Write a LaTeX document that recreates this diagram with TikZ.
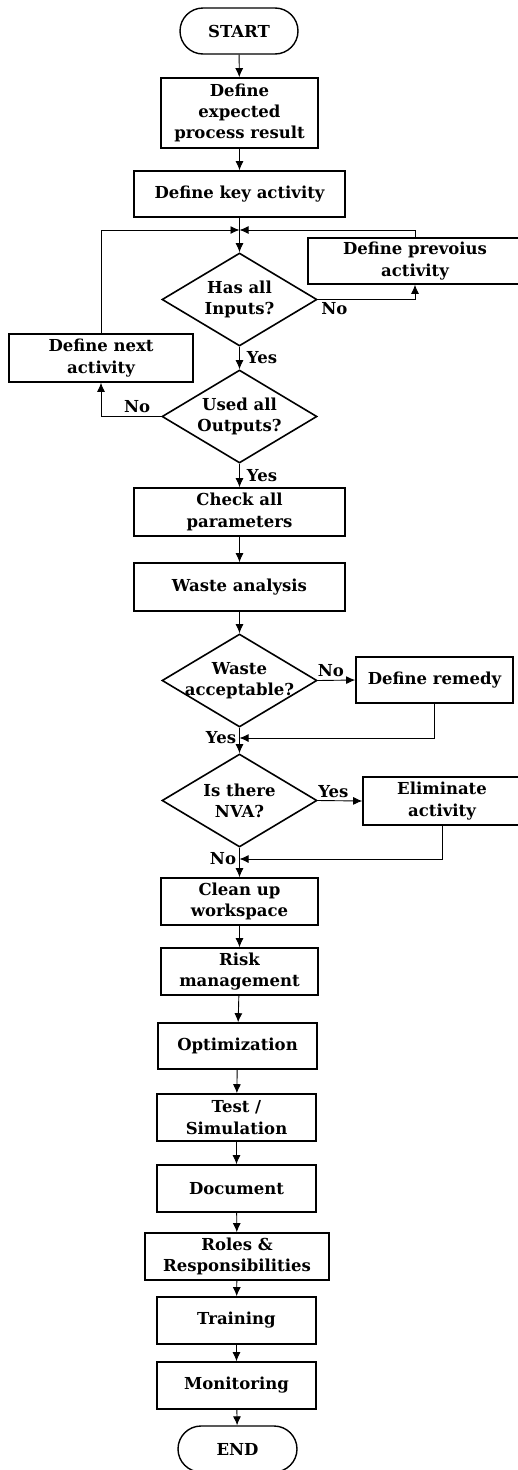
\documentclass[tikz,border=0pt]{standalone}
\usepackage{fontspec}
\setmainfont{DejaVu Serif}
\usetikzlibrary{shapes.geometric,arrows.meta}
\begin{document}
\begin{tikzpicture}[x=1pt,y=-1pt,>={Latex[length=9pt,width=8pt]},
  font=\bfseries\fontsize{16.5}{21.3}\selectfont,
  box/.style={draw,line width=1.6pt,align=center,inner sep=0pt,minimum width=#1,minimum height=47pt},
  box/.default=157pt,
  terminal/.style={draw,line width=1.4pt,rounded corners=23pt,minimum width=118pt,minimum height=46pt},
  decision/.style={draw,diamond,line width=1.6pt,inner sep=0pt,minimum width=155pt,minimum height=93pt},
  dtext/.style={align=center,inner sep=0pt},
  lbl/.style={inner sep=3pt},
  flow/.style={->,line width=0.9pt}]
\useasboundingbox (0,0) rectangle (517,1470);
% main column
\node[terminal] (start) at (239,31) {START};
\node[box,minimum height=70pt] (expected) at (239.5,113) {Define\\expected\\process result};
\node[box=211pt,minimum height=46pt] (key) at (239.5,194) {Define key activity};
\node[decision] (inputs) at (239.5,299.5) {};
\node[dtext] (inputs-t) at (inputs) {Has all\\Inputs?};
\node[decision] (outputs) at (239.5,416.5) {};
\node[dtext] (outputs-t) at (outputs) {Used all\\Outputs?};
\node[box=211pt,minimum height=48pt] (check) at (239.5,512) {Check all\\parameters};
\node[box=211pt,minimum height=48pt] (waste) at (239.5,587) {Waste analysis};
\node[decision] (accept) at (239.5,680.5) {};
\node[dtext] (accept-t) at (accept) {Waste\\acceptable?};
\node[decision] (nva) at (239.5,800.5) {};
\node[dtext] (nva-t) at (nva) {Is there\\NVA?};
\node[box] (clean) at (239.5,901.5) {Clean up\\workspace};
\node[box] (risk) at (239.5,971.5) {Risk\\management};
\node[box=159pt,minimum height=46pt] (optim) at (237.5,1046) {Optimization};
\node[box=159pt] (test) at (236.5,1117.5) {Test /\\Simulation};
\node[box=159pt] (doc) at (236.5,1188.5) {Document};
\node[box=184pt] (roles) at (237,1256.5) {Roles \&\\Responsibilities};
\node[box=159pt] (train) at (236.5,1320.5) {Training};
\node[box=159pt] (monit) at (236.5,1385.5) {Monitoring};
\node[terminal,minimum width=119pt] (end) at (237.5,1449) {END};
% side boxes
\node[box=214pt,minimum height=46pt] (prev) at (415,261) {Define prevoius\\activity};
\node[box=184pt,minimum height=48pt] (next) at (101,358) {Define next\\activity};
\node[box,minimum height=46pt] (remedy) at (434.5,680) {Define remedy};
\node[box=158pt,minimum height=48pt] (elim) at (442,801) {Eliminate\\activity};
\coordinate (join1) at (239.5,230);
\coordinate (join2) at (239.5,738);
\coordinate (join3) at (239.5,859);
% connectors
\draw[flow] (start) -- (expected);
\draw[flow] (expected) -- (key);
\draw[flow] (key) -- (inputs);
\draw[flow] (next.north) |- (join1);
\draw[flow] (prev.north) |- (join1);
\draw[flow] (inputs.east) node[lbl,below right] (no1) {No} -| (prev.south);
\draw[flow] (inputs) -- node[lbl,right,xshift=4pt] (yes1) {Yes} (outputs);
\draw[flow] (outputs.west) -| node[lbl,above,pos=0.2] (no2) {No} (next.south);
\draw[flow] (outputs) -- node[lbl,right,xshift=4pt] (yes2) {Yes} (check);
\draw[flow] (check) -- (waste);
\draw[flow] (waste) -- (accept);
\draw[flow] (accept.east) -- node[lbl,above,pos=0.35] (no3) {No} (remedy.west);
\draw[flow] (remedy.south) |- (join2);
\draw[flow] (accept) -- node[lbl,left,pos=0.4] (yes3) {Yes} (nva);
\draw[flow] (nva.east) -- node[lbl,above,pos=0.35] (yes4) {Yes} (elim.west);
\draw[flow] (elim.south) |- (join3);
\draw[flow] (nva) -- node[lbl,left,pos=0.35] (no4) {No} (clean);
\foreach \a/\b in {clean/risk,risk/optim,optim/test,test/doc,doc/roles,roles/train,train/monit,monit/end}
  \draw[flow] (\a) -- (\b);
\end{tikzpicture}
\end{document}
